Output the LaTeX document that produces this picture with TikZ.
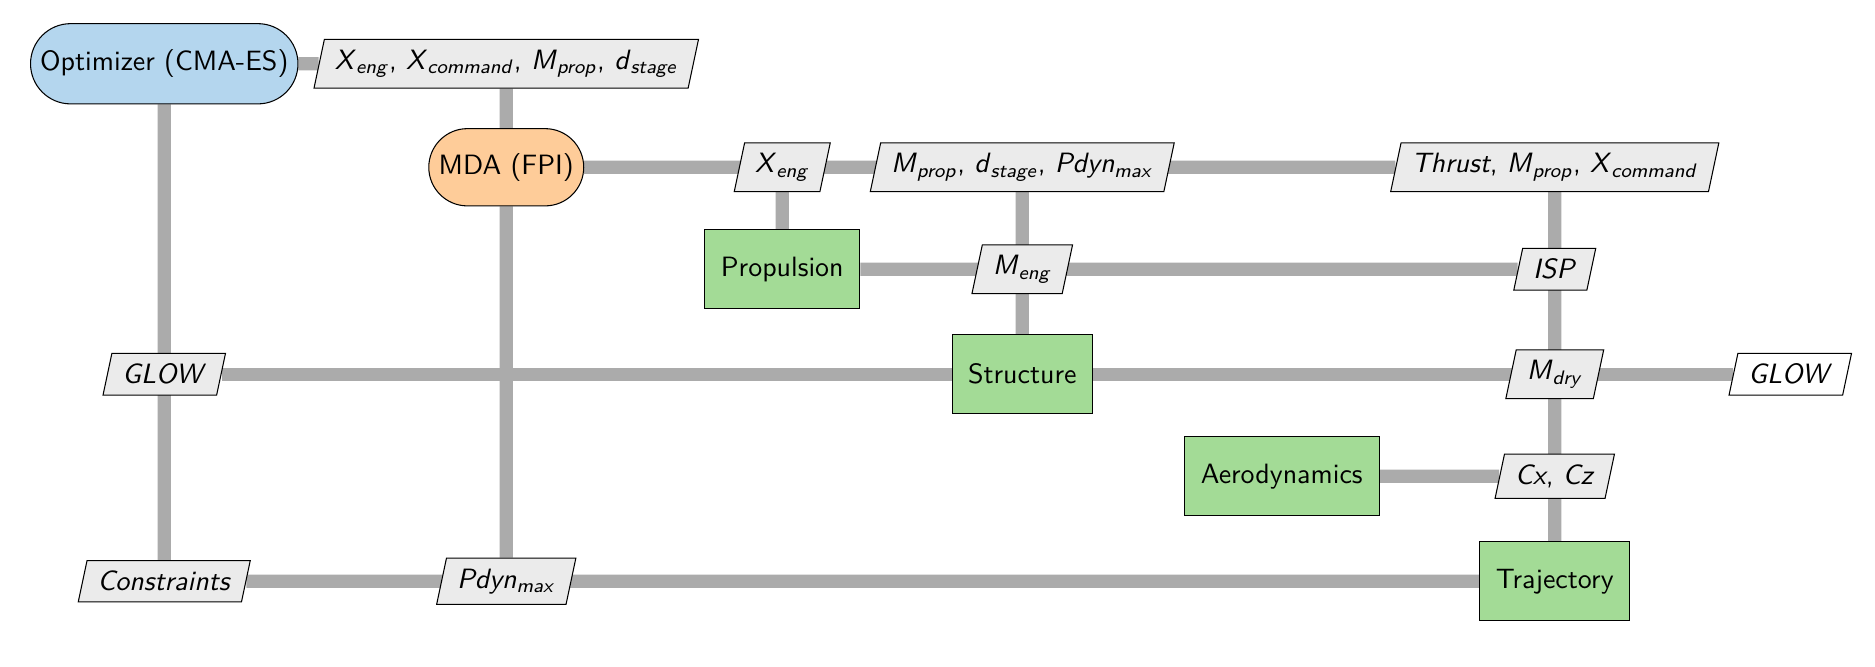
\documentclass[tikz,border=0pt]{standalone}
\usepackage{tikz}
\usetikzlibrary{shapes.geometric,shapes.misc,backgrounds}
\definecolor{optblue}{RGB}{180,214,238}
\definecolor{mdaorange}{RGB}{254,204,153}
\definecolor{funcgreen}{RGB}{163,219,150}
\definecolor{datagray}{RGB}{235,235,235}
\newcommand{\vsub}[2]{\textit{#1}\textsubscript{\textit{#2}}}

\begin{document}
\begin{tikzpicture}[font=\sffamily\fontsize{10.6}{12.7}\selectfont,
        optim/.style={rounded rectangle, draw, fill=optblue, minimum height=1.07cm},
        mdabox/.style={rounded rectangle, draw, fill=mdaorange, minimum height=1.03cm},
        func/.style={rectangle, draw, fill=funcgreen, minimum height=1.05cm},
        data/.style={trapezium, trapezium left angle=78, trapezium right angle=102,
            draw, fill=datagray, inner xsep=4pt, inner ysep=4pt},
        outdata/.style={data, fill=white},
        dataline/.style={line width=5pt, color=black!33}]
            \useasboundingbox (0,0) rectangle (25,-8.893);

            % diagonal
            \node [optim, minimum width=3.8cm] (opt) at (2.19,-0.85) {Optimizer (CMA-ES)};
            \node [mdabox, minimum width=2.3cm] (mda) at (6.75,-2.23) {MDA (FPI)};
            \node [func, minimum width=2.07cm] (prop) at (10.43,-3.59) {Propulsion};
            \node [func, minimum width=1.87cm] (struct) at (13.63,-4.99) {Structure};
            \node [func, minimum width=2.6cm] (aero) at (17.09,-6.35) {Aerodynamics};
            \node [func, minimum width=2.0cm] (traj) at (20.73,-7.75) {Trajectory};

            % data
            \node [data] (din) at (6.75,-0.85) {\vsub{X}{eng}, \vsub{X}{command}, \vsub{M}{prop}, \vsub{d}{stage}};
            \node [data] (xeng) at (10.43,-2.23) {\vsub{X}{eng}};
            \node [data] (mprop) at (13.63,-2.23) {\vsub{M}{prop}, \vsub{d}{stage}, \vsub{Pdyn}{max}};
            \node [data] (thrust) at (20.73,-2.23) {\textit{Thrust}, \vsub{M}{prop}, \vsub{X}{command}};
            \node [data] (meng) at (13.63,-3.59) {\vsub{M}{eng}};
            \node [data] (isp) at (20.73,-3.59) {\textit{ISP}};
            \node [data] (glowa) at (2.19,-4.99) {\textit{GLOW}};
            \node [data] (mdry) at (20.73,-4.99) {\vsub{M}{dry}};
            \node [outdata] (glowb) at (23.87,-4.99) {\textit{GLOW}};
            \node [data] (cxcz) at (20.73,-6.35) {\textit{Cx}, \textit{Cz}};
            \node [data] (cons) at (2.19,-7.75) {\textit{Constraints}};
            \node [data] (pdyn) at (6.75,-7.75) {\vsub{Pdyn}{max}};

            % connections
            \begin{scope}[on background layer]
                \draw [dataline] (opt) -- (din);
                \draw [dataline] (din) -- (mda);
                \draw [dataline] (opt) -- (cons);
                \draw [dataline] (mda) -- (thrust);
                \draw [dataline] (mda) -- (pdyn);
                \draw [dataline] (xeng) -- (prop);
                \draw [dataline] (prop) -- (isp);
                \draw [dataline] (mprop) -- (struct);
                \draw [dataline] (glowa) -- (glowb);
                \draw [dataline] (thrust) -- (traj);
                \draw [dataline] (aero) -- (cxcz);
                \draw [dataline] (cons) -- (traj);
            \end{scope}
        \end{tikzpicture}
\end{document}
